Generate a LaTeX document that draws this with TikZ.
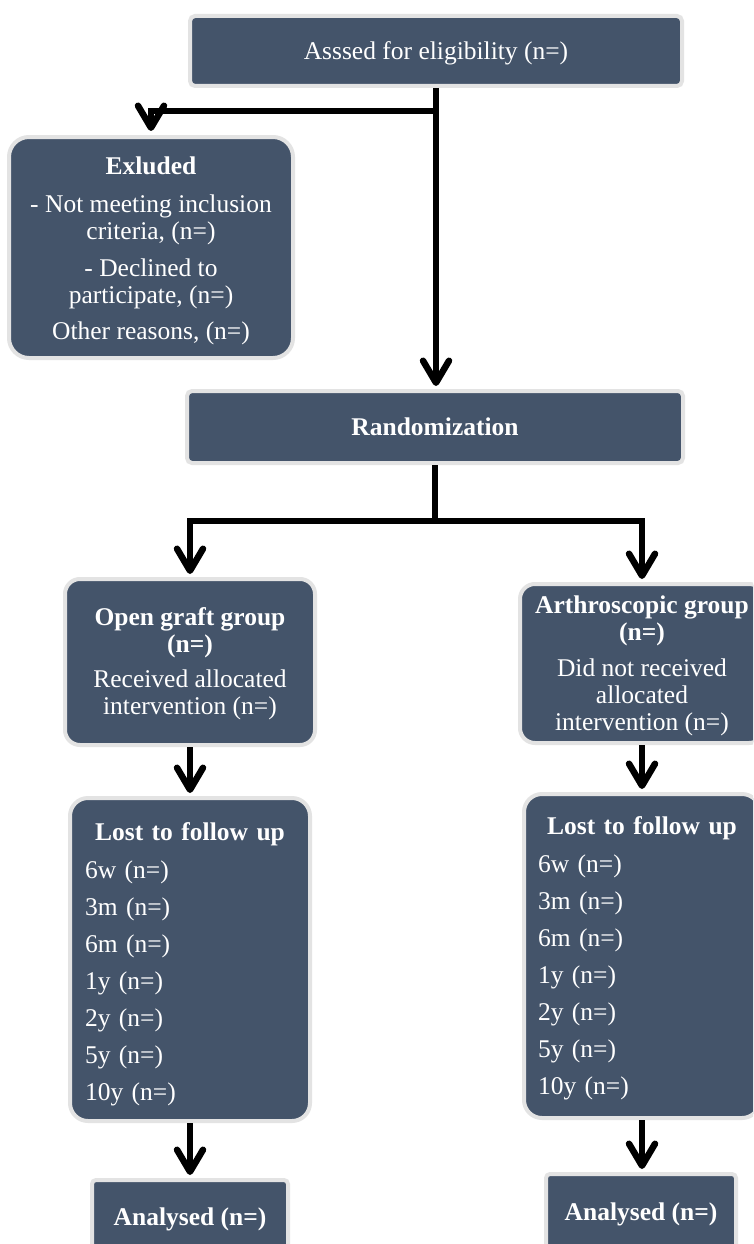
\documentclass[tikz,border=0pt]{standalone}
\usepackage{fontspec}
\setmainfont{Liberation Serif}
\usetikzlibrary{arrows.meta}
\definecolor{boxfill}{HTML}{44546A}
\definecolor{boxline}{HTML}{E3E3E3}
\newcommand{\lift}[1]{\rule{0pt}{#1pt}}
\begin{document}
\begin{tikzpicture}[x=1pt,y=-1pt,
  fbox/.style={draw=boxline, line width=4pt, fill=boxfill, text=white, inner sep=0pt, align=center, font=\fontsize{25.5}{27}\selectfont},
  conn/.style={line width=6.5pt, -{Straight Barb[length=22pt,width=26pt,round]}},
  wire/.style={line width=6.5pt}]
\path[use as bounding box, clip] (0,0) rectangle (753,1244);
\fill[white] (0,0) rectangle (753,1244);
% boxes
\node[fbox, rounded corners=5pt, minimum width=492pt, minimum height=70pt] (top) at (436,51) {\lift{21.6}Asssed for eligibility (n=)};
\node[fbox, rounded corners=20pt, minimum width=284pt, minimum height=221pt] (excl) at (151,247.5)
  {\lift{23.6}{\bfseries Exluded}\\[11pt] - Not meeting inclusion\\ criteria, (n=)\\[10pt] - Declined to\\ participate, (n=)\\[9pt] Other reasons, (n=)};
\node[fbox, rounded corners=5pt, minimum width=496pt, minimum height=72pt] (rand) at (435,427) {\bfseries Randomization};
\node[fbox, rounded corners=15pt, minimum width=250pt, minimum height=166pt] (open) at (190,662)
  {\lift{21.6}{\bfseries Open graft group}\\ {\bfseries (n=)}\\[8pt] Received allocated\\ intervention (n=)};
\node[fbox, rounded corners=15pt, minimum width=244pt, minimum height=159pt] (arth) at (642,663.5)
  {\lift{21.6}{\bfseries Arthroscopic group}\\ {\bfseries (n=)}\\[9pt] Did not received\\ allocated\\ intervention (n=)};
\node[fbox, rounded corners=18pt, align=left, text width=210pt, inner xsep=15pt, minimum height=323pt] (lostL) at (190,959.5)
  {\makebox[210pt][c]{\lift{27.6}\bfseries Lost to follow up}\\[11pt] 6w (n=)\\[10pt] 3m (n=)\\[10pt] 6m (n=)\\[10pt] 1y (n=)\\[10pt] 2y (n=)\\[10pt] 5y (n=)\\[10pt] 10y (n=)};
\node[fbox, rounded corners=18pt, align=left, text width=208pt, inner xsep=14pt, minimum height=324pt] (lostR) at (642,956)
  {\makebox[208pt][c]{\lift{21.6}\bfseries Lost to follow up}\\[11pt] 6w (n=)\\[10pt] 3m (n=)\\[10pt] 6m (n=)\\[10pt] 1y (n=)\\[10pt] 2y (n=)\\[10pt] 5y (n=)\\[10pt] 10y (n=)};
\node[fbox, rounded corners=4pt, minimum width=196pt, minimum height=74pt] (anL) at (190,1217) {\lift{21.6}\bfseries Analysed (n=)};
\node[fbox, rounded corners=4pt, minimum width=190pt, minimum height=76pt] (anR) at (641,1212) {\lift{21.6}\bfseries Analysed (n=)};
% connectors
\coordinate (j1) at (436,111);
\coordinate (j2) at (435,521);
\draw[conn, shorten >=3pt] (top.south) -- (top.south |- rand.north);
\draw[conn, shorten >=4pt] (j1) -| (excl.north);
\draw[wire] (rand.south) -- (j2);
\draw[conn, shorten >=3pt] (j2) -| (open.north);
\draw[conn, shorten >=3pt] (j2) -| (arth.north);
\draw[conn, shorten >=3pt] (open.south) -- (open.south |- lostL.north);
\draw[conn, shorten >=3pt] (arth.south) -- (arth.south |- lostR.north);
\draw[conn, shorten >=3pt] (lostL.south) -- (lostL.south |- anL.north);
\draw[conn, shorten >=3pt] (lostR.south) -- (lostR.south |- anR.north);
\end{tikzpicture}
\end{document}
